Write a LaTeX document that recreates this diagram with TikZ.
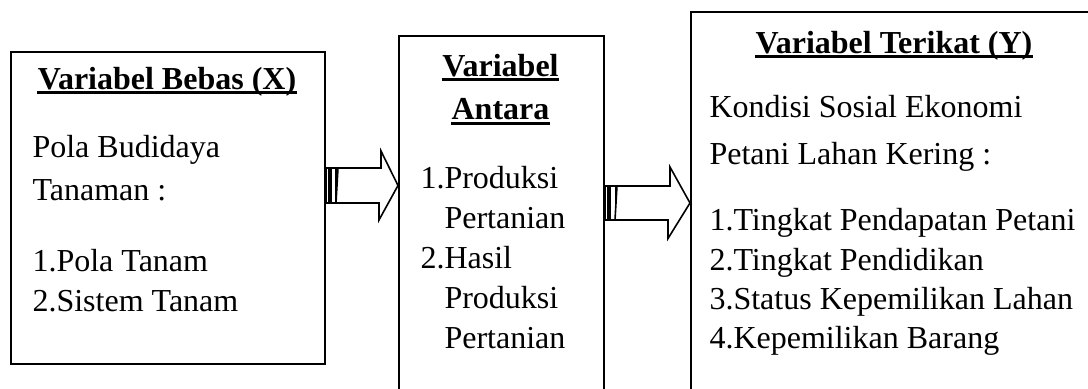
\documentclass[tikz,border=0pt]{standalone}
\usepackage{fontspec}
\setmainfont{Liberation Serif}
\usetikzlibrary{calc}
\begin{document}
\begin{tikzpicture}[x=0.375pt,y=-0.375pt,
  box/.style={draw, line width=0.75pt, anchor=north west, inner sep=0pt},
  body/.style={anchor=base west, inner sep=0pt, font=\fontsize{12}{14}\selectfont},
  head/.style={anchor=base, inner sep=0pt, font=\fontsize{12}{14}\selectfont\bfseries},
  uline/.style={line width=1.1pt},
  barrow/.style={draw, fill=white, line width=0.6pt, line join=miter}]
\clip (0,0) rectangle (1088,389);

% three framed boxes (the middle and right ones run off the page)
\node[box, minimum width=117.75pt, minimum height=117pt] (bebas) at (10,51) {};
\node[box, minimum width=76.875pt, minimum height=150pt] (antara) at (398,35) {};
\node[box, minimum width=157.5pt, minimum height=150pt] (terikat) at (690,11) {};

% left box: independent variable
\node[head] (hb) at (167,89) {Variabel Bebas (X)};
\draw[uline] ([yshift=-1.3pt]hb.base west) -- ([yshift=-1.3pt]hb.base east);
\node[body] (b1) at (32,157) {Pola Budidaya};
\node[body] (b2) at (32,201) {Tanaman :};
\node[body] (b3) at (32,271) {1.Pola Tanam};
\node[body] (b4) at (32,311) {2.Sistem Tanam};

% middle box: intervening variable
\node[head] (ha1) at (500.5,76) {Variabel};
\draw[uline] ([yshift=-1.3pt]ha1.base west) -- ([yshift=-1.3pt]ha1.base east);
\node[head] (ha2) at (500.5,120) {Antara};
\draw[uline] ([yshift=-1.3pt]ha2.base west) -- ([yshift=-1.3pt]ha2.base east);
\node[body] (a1) at (420,188) {1.Produksi};
\node[body] (a2) at (420,228) {\phantom{1.}Pertanian};
\node[body] (a3) at (420,268) {2.Hasil};
\node[body] (a4) at (420,308) {\phantom{2.}Produksi};
\node[body] (a5) at (420,348) {\phantom{2.}Pertanian};

% right box: dependent variable
\node[head] (ht) at (894,53) {Variabel Terikat (Y)};
\draw[uline] ([yshift=-1.3pt]ht.base west) -- ([yshift=-1.3pt]ht.base east);
\node[body] (t1) at (709,118) {Kondisi Sosial Ekonomi};
\node[body] (t2) at (709,164) {Petani Lahan Kering :};
\node[body] (t3) at (709,231) {1.Tingkat Pendapatan Petani};
\node[body] (t4) at (709,270) {2.Tingkat Pendidikan};
\node[body] (t5) at (709,309) {3.Status Kepemilikan Lahan};
\node[body] (t6) at (709,348) {4.Kepemilikan Barang};

% striped block arrow: left box -> middle box
\coordinate (s1) at (bebas.east |- 0,185.5);
\coordinate (e1) at (antara.west |- s1);
\draw[barrow] (s1) ++(0,-17.5) rectangle ++(3,35);
\draw[barrow] (s1) ++(5,-17.5) rectangle ++(5,35);
\draw[barrow] (s1) ++(12,-17.5) -- ++(43,0) -- ++(0,-17) -- (e1)
  -- ++(-19,34.5) -- ++(0,-17) -- ++(-43,0) -- cycle;

% striped block arrow: middle box -> right box
\coordinate (s2) at (antara.east |- 0,203);
\coordinate (e2) at (terikat.west |- s2);
\draw[barrow] (s2) ++(0,-17) rectangle ++(3,34);
\draw[barrow] (s2) ++(5,-17) rectangle ++(6,34);
\draw[barrow] (s2) ++(12,-17) -- ++(53,0) -- ++(0,-19) -- (e2)
  -- ++(-22,35.5) -- ++(0,-18.5) -- ++(-53,0) -- cycle;
\end{tikzpicture}
\end{document}
